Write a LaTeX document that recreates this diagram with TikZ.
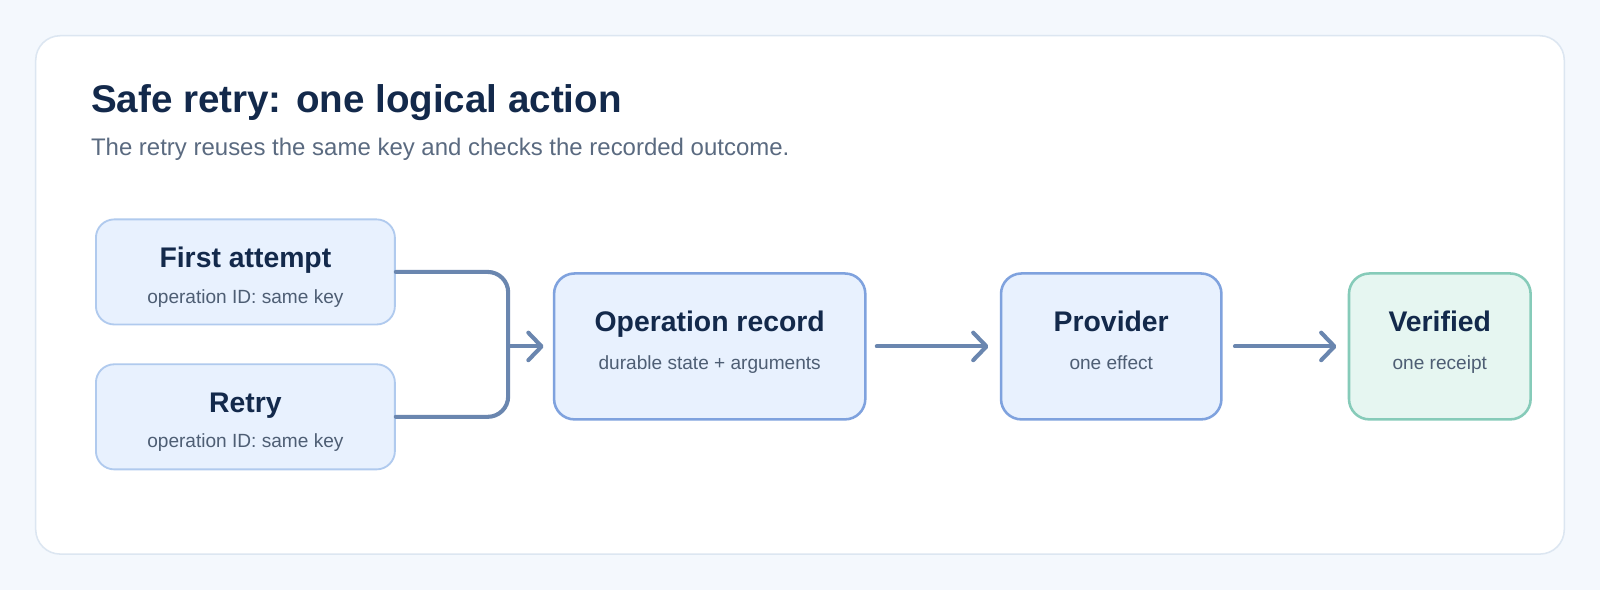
\documentclass[tikz,border=0pt]{standalone}
\usepackage{fontspec}
\setmainfont{Liberation Sans}
\usetikzlibrary{arrows.meta}
\definecolor{pagebg}{HTML}{F4F8FD}
\definecolor{cardline}{HTML}{DCE6F1}
\definecolor{ink}{HTML}{13294B}
\definecolor{subink}{HTML}{5A6A80}
\definecolor{boxink}{HTML}{4E5E74}
\definecolor{boxfill}{HTML}{E8F1FE}
\definecolor{lightline}{HTML}{B0CAEE}
\definecolor{mainline}{HTML}{7FA2DE}
\definecolor{okfill}{HTML}{E6F6F1}
\definecolor{okline}{HTML}{86CBB9}
\definecolor{wire}{HTML}{6A86AF}
\tikzset{
  card/.style={draw=cardline, line width=1.5pt, fill=white, rounded corners=24pt},
  inbox/.style={draw=lightline, line width=1.8pt, fill=boxfill, rounded corners=18pt},
  mainbox/.style={draw=mainline, line width=2.5pt, fill=boxfill, rounded corners=20pt},
  okbox/.style={draw=okline, line width=2.5pt, fill=okfill, rounded corners=20pt},
  boxtitle/.style={anchor=base, inner sep=0pt, text=ink, font=\fontsize{27.8}{33}\selectfont\bfseries},
  boxsub/.style={anchor=base, inner sep=0pt, text=boxink, font=\fontsize{18.7}{22}\selectfont},
  wireline/.style={draw=wire, line width=4pt, line cap=round, line join=round},
  arrowline/.style={wireline, -{Straight Barb[length=13pt, width=27pt, line cap=round, line join=round]}},
}
\begin{document}
\begin{tikzpicture}[x=1pt, y=-1pt]
\useasboundingbox (0,0) rectangle (1568,578.2);
\fill[pagebg] (0,0) rectangle (1568,578.2);
\draw[card] (35,35) rectangle (1533,543);
\node[anchor=base west, inner sep=0pt, text=ink, font=\fontsize{37.8}{44}\selectfont\bfseries] (title) at (89,110) {Safe retry: one logical action};
\node[anchor=base west, inner sep=0pt, text=subink, font=\fontsize{23.5}{28}\selectfont] (subtitle) at (89,152) {The retry reuses the same key and checks the recorded outcome.};

% boxes
\node[inbox, minimum width=293pt, minimum height=103pt, inner sep=0pt] (fa) at (240.5,266.5) {};
\node[inbox, minimum width=293pt, minimum height=103pt, inner sep=0pt] (rt) at (240.5,408.5) {};
\node[mainbox, minimum width=305pt, minimum height=143pt, inner sep=0pt] (op) at (695.5,339.5) {};
\node[mainbox, minimum width=216pt, minimum height=143pt, inner sep=0pt] (pv) at (1089,339.5) {};
\node[okbox, minimum width=178pt, minimum height=143pt, inner sep=0pt] (vf) at (1411,339.5) {};

\node[boxtitle] (fa-t) at (240.5,262) {First attempt};
\node[boxsub] (fa-s) at (240.5,297) {operation ID: same key};
\node[boxtitle] (rt-t) at (240.5,404) {Retry};
\node[boxsub] (rt-s) at (240.5,439) {operation ID: same key};
\node[boxtitle] (op-t) at (695.5,325) {Operation record};
\node[boxsub] (op-s) at (695.5,362) {durable state + arguments};
\node[boxtitle] (pv-t) at (1089,325) {Provider};
\node[boxsub] (pv-s) at (1089,362) {one effect};
\node[boxtitle] (vf-t) at (1411,325) {Verified};
\node[boxsub] (vf-s) at (1411,362) {one receipt};

% connectors
\coordinate (join) at (498,339.5);
\draw[wireline, rounded corners=20pt] (fa.east) -- (fa.east -| join) -- (rt.east -| join) -- (rt.east);
\draw[arrowline, shorten >=9pt] (join) -- (op.west);
\draw[arrowline, shorten <=10pt, shorten >=11pt] (op.east) -- (pv.west);
\draw[arrowline, shorten <=12pt, shorten >=11pt] (pv.east) -- (vf.west);
\end{tikzpicture}
\end{document}
